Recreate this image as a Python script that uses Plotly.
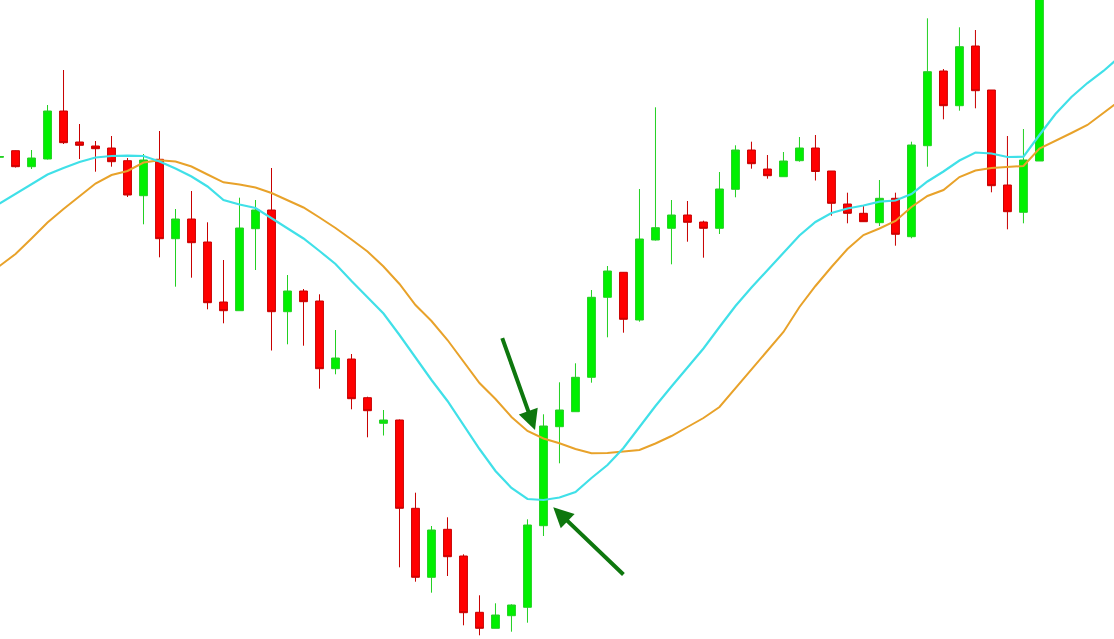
import plotly.graph_objects as go

# ---- candle data (bar index, arbitrary price units) ----
bar_index = list(range(66))
open_ = [482.7, 489.3, 473.3, 481, 529, 498, 494, 492, 479.3, 444.3,
         480.7, 401.3, 421, 398, 338, 329.3, 411.3, 430, 328.3, 349,
         339, 271.3, 281, 242.3, 216.7, 220, 131.7, 62.7, 110.7, 84,
         27.7, 11.7, 24.3, 32.7, 114.3, 213.3, 228.3, 262.7, 342.7, 367.7,
         320, 400, 411.7, 425, 418, 411.7, 450.7, 490, 471, 463.3,
         479.3, 492, 469, 436, 426.7, 417.3, 441.7, 403.3, 494.3, 569,
         534.3, 594, 550, 455, 427.7, 479]
high_ = [484, 489.5, 490, 535, 570, 516, 499, 504, 482, 486,
         509, 431, 449, 417.7, 380, 442.3, 440, 472, 365, 351,
         345.7, 310, 286, 243.3, 230, 220.5, 147.3, 114, 122.7, 85.7,
         44.7, 36.7, 35.7, 120.7, 225.7, 257.7, 276.7, 350, 374, 368,
         451, 532.7, 440, 439, 419.3, 468, 494.7, 498.3, 485, 488,
         503, 505, 469, 447.3, 434, 460, 447.3, 498.3, 621.7, 571,
         612.7, 610, 550, 504, 511, 690]
low_ = [482, 472.5, 471, 480.5, 496, 481, 468.3, 473.3, 443, 415.7,
        382.7, 353.3, 362.3, 330.7, 316.7, 329.3, 370, 289.5, 295.7, 294.3,
        251.3, 265.7, 230.7, 202.7, 204.5, 72.7, 58.3, 47.3, 64, 14.7,
        4.7, 11.7, 8.3, 17.3, 104, 176.7, 228.3, 257.3, 302.7, 307.3,
        318.3, 399.5, 375.7, 398.3, 382.3, 406, 442.7, 471.3, 461.3, 463.3,
        478.3, 459.5, 424.3, 416.7, 418, 414, 394.3, 401.7, 473.3, 520.7,
        529.3, 531.7, 447.7, 410.7, 416.7, 479]
close_ = [483.5, 473.3, 482, 529, 497.3, 494.7, 491.3, 478.3, 445, 480,
          401.3, 421, 397.3, 337.3, 329.3, 412, 430, 328.3, 349, 338.3,
          271.3, 282, 241.3, 229.3, 220, 131.7, 62.7, 110, 83.3, 27.3,
          11.7, 25, 35, 115, 214, 230, 262.7, 342.7, 369, 320.7,
          401, 412.3, 425, 417.7, 411.7, 451, 490, 476.3, 464.3, 479,
          492, 468.5, 436.7, 426.7, 418.3, 441.7, 405.7, 495, 568.3, 534.3,
          593.3, 549.3, 454.3, 428.3, 480, 670]

# ---- moving averages (displaced, extend past last bar) ----
ma_index = list(range(71))
ma_fast = [436.5, 446.3, 456.5, 465.5, 472, 478, 482.5, 484, 484.3, 484,
           478.5, 471.5, 463.5, 453.5, 440, 435.5, 432, 422, 412, 401.5,
           389, 376, 359, 343, 326.5, 305, 282, 260, 239, 215,
           191, 169, 152, 141, 140, 142.5, 148, 162, 175, 192,
           213, 234, 253.5, 272, 291.5, 313, 334, 352.5, 370, 387,
           404.5, 418, 427, 431.5, 434.5, 438.3, 439.5, 446, 458.5, 468.5,
           479.5, 487.5, 486.5, 483, 483.3, 505, 526, 543, 557, 569,
           583]
ma_slow = [374, 386, 401.5, 417.5, 431, 444, 456.5, 465, 469, 477.5,
           479.7, 478.5, 473.5, 465.5, 457.7, 455.5, 452.5, 447, 440, 432.5,
           422.5, 412, 400.5, 388.5, 373.5, 356, 335, 319, 300, 278.5,
           257, 241, 223, 209, 201.5, 196.7, 191, 186.7, 187, 188.5,
           190, 196.5, 204, 213, 222, 233, 251.5, 270, 289, 308,
           333, 354, 373, 391, 405, 411.5, 419, 433, 444, 450,
           463, 469.5, 472, 473, 474, 491.5, 499, 507, 515, 527,
           539]

# ---- arrow annotations: (tip_x, tip_y, tail_x, tail_y) ----
arrows = [(33.47, 210.0, 31.39, 303.3),
          (34.61, 132.7, 39.09, 64.0)]

fig = go.Figure()
fig.add_trace(go.Candlestick(
    x=bar_index, open=open_, high=high_, low=low_, close=close_,
    increasing=dict(fillcolor="#00F000", line=dict(color="#22D022", width=1)),
    decreasing=dict(fillcolor="#FF0000", line=dict(color="#C80000", width=1)),
    whiskerwidth=0, hoverinfo="skip", showlegend=False,
))
fig.add_trace(go.Scatter(x=ma_index, y=ma_slow, mode="lines",
                         line=dict(color="#E8A22A", width=2), hoverinfo="skip",
                         showlegend=False))
fig.add_trace(go.Scatter(x=ma_index, y=ma_fast, mode="lines",
                         line=dict(color="#40E0E8", width=2.2), hoverinfo="skip",
                         showlegend=False))

for tx, ty, sx, sy in arrows:
    fig.add_annotation(x=tx, y=ty, ax=sx, ay=sy, xref="x", yref="y",
                       axref="x", ayref="y", text="", showarrow=True,
                       arrowhead=2, arrowsize=1.0, arrowwidth=4,
                       arrowcolor="#0E770E")

fig.update_layout(
    width=1114, height=639,
    margin=dict(l=0, r=0, t=0, b=0),
    paper_bgcolor="white", plot_bgcolor="white",
    showlegend=False,
    hovermode=False,
    xaxis=dict(range=[0.03, 69.66], visible=False, showgrid=False,
               zeroline=False, rangeslider=dict(visible=False)),
    yaxis=dict(range=[1, 640], visible=False, showgrid=False, zeroline=False),
    boxgap=0.3,
)

fig.write_html("out.html",
               config={"displayModeBar": False, "staticPlot": True},
               post_script="document.body.style.margin='0';document.body.style.overflow='hidden';")
